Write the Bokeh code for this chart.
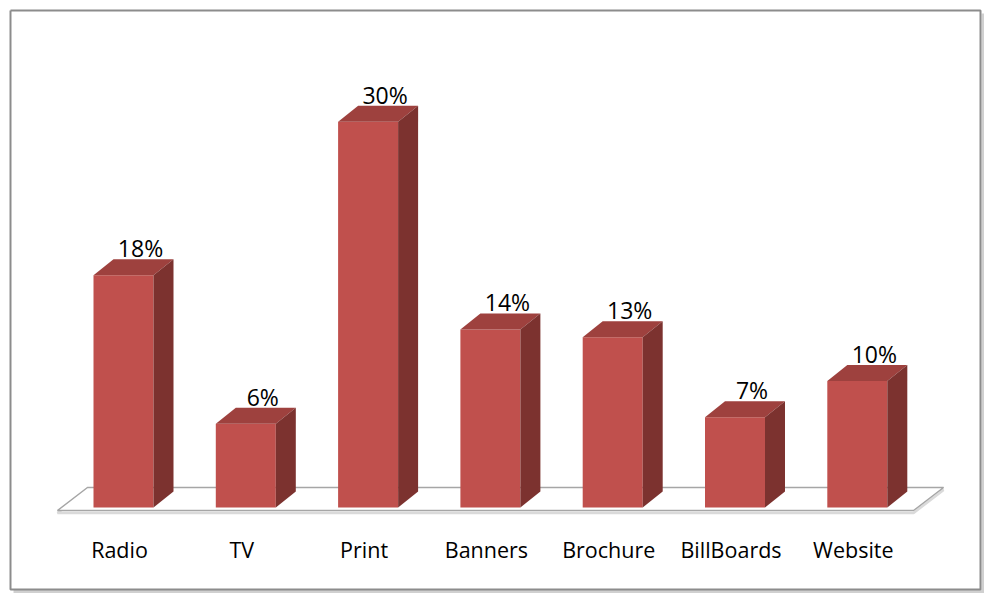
from bokeh.plotting import figure
from bokeh.embed import file_html
from bokeh.resources import INLINE
from bokeh.core.properties import value
from bokeh.models import Range1d

# ---- data ----
categories = ["Radio", "TV", "Print", "Banners", "Brochure", "BillBoards", "Website"]
shares = [18.0, 6.5, 29.9, 13.8, 13.2, 7.0, 9.8]          # bar heights
share_labels = ["18%", "6%", "30%", "14%", "13%", "7%", "10%"]

# ---- layout / style ----
W, H = 984, 593
UX, UY = 122.3, 12.9          # pixels per category step, pixels per percent
x0 = -123 / UX
y0 = -(H - 507) / UY

FRONT = "#C0504D"
TOP = "#9E413E"
SIDE = "#7C322F"
FONT = value("Open Sans")

p = figure(width=W, height=H,
           x_range=Range1d(x0, x0 + W / UX), y_range=Range1d(y0, y0 + H / UY),
           output_backend="svg", toolbar_location=None,
           x_axis_type=None, y_axis_type=None, min_border=0)
p.grid.visible = False
p.outline_line_color = None
p.background_fill_color = "white"
p.border_fill_color = "white"


def X(px):
    return x0 + px / UX


def Y(py):
    return y0 + (H - py) / UY


# outer chart border with shadow
p.line([X(13), X(983), X(983)], [Y(591), Y(591), Y(13)], line_color="#D0D0D0", line_width=4)
p.line([X(10), X(980), X(980), X(10), X(10)], [Y(10), Y(10), Y(589), Y(589), Y(10)],
       line_color="#8C8C8C", line_width=2)

n = len(categories)
xs = list(range(n))

# floor (3D base)
fl_left, fl_right = -0.54, n - 1 + 0.46
fl_front, fl_back = -3 / UY, 20 / UY
fl_dx = 30 / UX
p.patch([fl_left, fl_right, fl_right + fl_dx, fl_left + fl_dx],
        [fl_front - 2.5 / UY, fl_front - 2.5 / UY, fl_back - 2.5 / UY, fl_back - 2.5 / UY],
        fill_color=None, line_color="#DADADA", line_width=2.5)
p.patch([fl_left, fl_right, fl_right + fl_dx, fl_left + fl_dx],
        [fl_front, fl_front, fl_back, fl_back],
        fill_color="white", line_color="#A6A6A6", line_width=1.5)

# bars
HW = 30 / UX
DX = 20 / UX
DY = 16 / UY
tops_x, tops_y, sides_x, sides_y = [], [], [], []
for x, v in zip(xs, shares):
    tops_x.append([x - HW, x - HW + DX, x + HW + DX, x + HW])
    tops_y.append([v, v + DY, v + DY, v])
    sides_x.append([x + HW, x + HW + DX, x + HW + DX, x + HW])
    sides_y.append([0, DY, v + DY, v])

p.quad(left=[x - HW for x in xs], right=[x + HW for x in xs], bottom=0, top=shares,
       fill_color=FRONT, line_color=None)
p.patches(tops_x, tops_y, fill_color=TOP, line_color=None)
p.patches(sides_x, sides_y, fill_color=SIDE, line_color=None)

# value labels
p.text(x=[x + 17 / UX for x in xs], y=[v + DY + 11 / UY for v in shares], text=share_labels,
       text_font=FONT, text_font_size="23px", text_color="black",
       text_align="center", text_baseline="alphabetic")

# category labels
p.text(x=[x - 4 / UX for x in xs], y=[Y(549)] * n, text=categories,
       text_font=FONT, text_font_size="21.5px", text_color="black",
       text_align="center", text_baseline="alphabetic")

open("out.html", "w").write(file_html(p, INLINE))
